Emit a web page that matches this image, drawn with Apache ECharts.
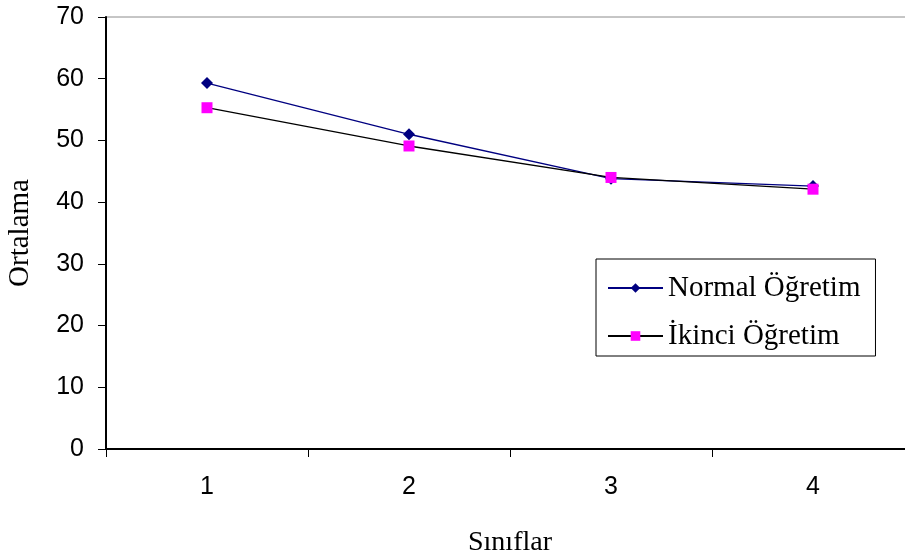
<!DOCTYPE html>
<html>
<head>
<meta charset="utf-8">
<script src="https://cdn.jsdelivr.net/npm/echarts@6/dist/echarts.min.js"></script>
<style>
  html, body { margin: 0; padding: 0; background: #fff; }
  #chart { width: 905px; height: 558px; }
</style>
</head>
<body>
<div id="chart"></div>
<script>
// Class levels on the x axis
const categories = ['1', '2', '3', '4'];
// Mean scores per class level
const normalOgretim = [59.3, 51.0, 43.8, 42.6];
const ikinciOgretim = [55.3, 49.1, 44.0, 42.1];
// Value-axis ticks
const yMin = 0, yMax = 70, yStep = 10;

const chart = echarts.init(document.getElementById('chart'), null, { renderer: 'canvas' });

const serif = '"Liberation Serif", "Times New Roman", serif';
const sans = '"Liberation Sans", Arial, sans-serif';

chart.setOption({
  animation: false,
  backgroundColor: '#ffffff',
  grid: {
    left: 106, right: -9, top: 17, bottom: 109,
    outerBoundsMode: 'none',
    containLabel: false,
    show: true, borderColor: '#8c8c8c', borderWidth: 1
  },
  legend: {
    left: 596, top: 259,
    orient: 'vertical',
    padding: [14, 15, 5, 11],
    itemGap: 18,
    itemWidth: 55,
    itemHeight: 12,
    borderColor: '#000', borderWidth: 1,
    backgroundColor: '#fff',
    textStyle: { fontFamily: serif, fontSize: 29, color: '#000', lineHeight: 30 },
    data: ['Normal Öğretim', 'İkinci Öğretim']
  },
  xAxis: {
    type: 'category',
    data: categories,
    boundaryGap: true,
    name: 'Sınıflar',
    nameLocation: 'middle',
    nameGap: 80,
    nameTextStyle: { fontFamily: serif, fontSize: 28, color: '#000' },
    axisLine: { lineStyle: { color: '#000', width: 2 } },
    axisTick: { show: true, length: 8, alignWithLabel: false, lineStyle: { color: '#000', width: 1 } },
    axisLabel: { margin: 26, fontFamily: sans, fontSize: 25, color: '#000' },
    splitLine: { show: false }
  },
  yAxis: {
    type: 'value',
    min: yMin, max: yMax, interval: yStep,
    name: 'Ortalama',
    nameLocation: 'middle',
    nameGap: 71,
    nameRotate: 90,
    nameTextStyle: { fontFamily: serif, fontSize: 29, color: '#000' },
    axisLine: { show: true, lineStyle: { color: '#000', width: 2 } },
    axisTick: { show: true, length: 8, lineStyle: { color: '#000', width: 1 } },
    axisLabel: { margin: 22, fontFamily: sans, fontSize: 25, color: '#000' },
    splitLine: { show: false }
  },
  series: [
    {
      name: 'Normal Öğretim',
      type: 'line',
      data: normalOgretim,
      symbol: 'diamond',
      symbolSize: 12,
      lineStyle: { color: '#000080', width: 1.3 },
      itemStyle: { color: '#000080' },
      z: 3
    },
    {
      name: 'İkinci Öğretim',
      type: 'line',
      data: ikinciOgretim,
      symbol: 'rect',
      symbolSize: 11,
      lineStyle: { color: '#000000', width: 1.3 },
      itemStyle: { color: '#ff00ff' },
      z: 4
    }
  ]
});
</script>
</body>
</html>
